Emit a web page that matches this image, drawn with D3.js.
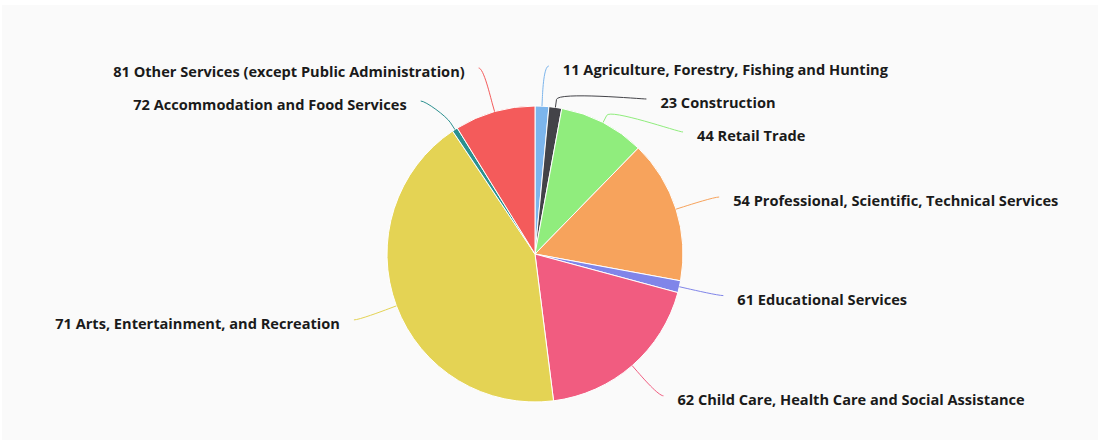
<!DOCTYPE html>
<html>
<head>
<meta charset="utf-8">
<script src="https://cdn.jsdelivr.net/npm/d3@7"></script>
<style>
  body { margin: 0; background: #fff; }
  text { font-family: "Open Sans", sans-serif; font-weight: 700; font-size: 14.6px; fill: #1a1a1a; }
</style>
</head>
<body>
<div id="graph"></div>
<script>
var categories = [
  "11 Agriculture, Forestry, Fishing and Hunting",
  "23 Construction",
  "44 Retail Trade",
  "54 Professional, Scientific, Technical Services",
  "61 Educational Services",
  "62 Child Care, Health Care and Social Assistance",
  "71 Arts, Entertainment, and Recreation",
  "72 Accommodation and Food Services",
  "81 Other Services (except Public Administration)"
]
var values = [15, 14, 94, 156, 13, 188, 426, 6, 88]
var colors = ["#7cb5ec", "#434348", "#90ed7d", "#f7a35c", "#8085e9",
              "#f15c80", "#e4d354", "#2b908f", "#f45b5b"]

var width = 1098, height = 444
var cx = 535, cy = 254, r = 148
var labelDist = 40       // distance of labels outside the pie
var pad = 5              // dataLabel padding
var gap = 33             // min vertical spacing between labels
var minY = 66, maxY = 400

var svg = d3.select('#graph').append('svg')
  .attr('width', width).attr('height', height)

svg.append('rect')
  .attr('x', 2).attr('y', 5)
  .attr('width', width - 2).attr('height', 435)
  .attr('fill', '#fafafa')

var data = categories.map((c, i) => ({ name: c, value: values[i], color: colors[i] }))

var pie = d3.pie().sort(null).value(d => d.value)
var arcs = pie(data)
var arc = d3.arc().innerRadius(0).outerRadius(r)

var g = svg.append('g').attr('transform', `translate(${cx},${cy})`)

g.selectAll('path.slice').data(arcs).join('path')
  .attr('class', 'slice')
  .attr('d', arc)
  .attr('fill', d => d.data.color)
  .attr('stroke', '#fff')
  .attr('stroke-width', 1)
  .attr('stroke-linejoin', 'round')

// label layout, roughly like highcharts pie dataLabels
var R = r + labelDist
arcs.forEach(d => {
  d.mid = (d.startAngle + d.endAngle) / 2
  d.left = Math.sin(d.mid) < 0
  d.ny = cy - R * Math.cos(d.mid)
})

function distribute(items) {
  items.sort((a, b) => a.ny - b.ny)
  var groups = items.map(d => [d])
  var top = grp => {
    var t = d3.mean(grp, d => d.ny) - (grp.length - 1) * gap / 2
    return Math.max(minY, Math.min(maxY - (grp.length - 1) * gap, t))
  }
  var merged = true
  while (merged) {
    merged = false
    for (var i = 0; i < groups.length - 1; i++) {
      if (top(groups[i]) + groups[i].length * gap > top(groups[i + 1])) {
        groups.splice(i, 2, groups[i].concat(groups[i + 1]))
        merged = true
        break
      }
    }
  }
  groups.forEach(grp => {
    var t = top(grp)
    grp.forEach((d, k) => {
      d.y = t + k * gap
      d.clamped = d.y - minY < 2.5   // label pinned at the top: x from natural spot
    })
  })
}
distribute(arcs.filter(d => !d.left))
distribute(arcs.filter(d => d.left))

arcs.forEach(d => {
  var yy = d.clamped ? d.ny : d.y
  var a = Math.asin(Math.max(-1, Math.min(1, (yy - cy) / R)))
  var s = d.left ? -1 : 1
  d.x = cx + s * (Math.cos(a) * R + pad)
  // connector points
  d.touch = [cx + r * Math.sin(d.mid), cy - r * Math.cos(d.mid)]
  d.brk = [cx + (r + 8) * Math.sin(d.mid), cy - (r + 8) * Math.cos(d.mid)]
})

var connector = d => {
  var p = d3.path()
  p.moveTo(d.x, d.y)
  p.bezierCurveTo(d.x + (d.left ? 5 : -5), d.y,
    2 * d.brk[0] - d.touch[0], 2 * d.brk[1] - d.touch[1],
    d.brk[0], d.brk[1])
  p.lineTo(d.touch[0], d.touch[1])
  return p.toString()
}

svg.selectAll('path.conn').data(arcs).join('path')
  .attr('class', 'conn')
  .attr('d', connector)
  .attr('fill', 'none')
  .attr('stroke', d => d.data.color)
  .attr('stroke-width', 1)

svg.selectAll('text.lbl').data(arcs).join('text')
  .attr('class', 'lbl')
  .attr('x', d => d.x + (d.left ? -14 : 14))
  .attr('y', d => d.y + 3)
  .attr('dominant-baseline', 'central')
  .attr('text-anchor', d => d.left ? 'end' : 'start')
  .text(d => d.data.name)
</script>
</body>
</html>
